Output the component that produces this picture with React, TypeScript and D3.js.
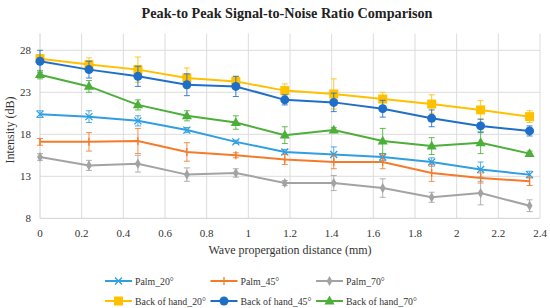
import React, { useEffect, useRef } from 'react';
import * as d3 from 'd3';

const distances = [0, 0.235, 0.47, 0.705, 0.94, 1.175, 1.41, 1.645, 1.88, 2.115, 2.35];

const palm20 = [20.4, 20.1, 19.6, 18.5, 17.1, 15.9, 15.6, 15.3, 14.7, 13.8, 13.2];
const palm20Err = [0.4, 0.7, 0.6, 0.3, 0.2, 0.3, 0.9, 0.4, 0.5, 0.9, 0.4];
const palm45 = [17.1, 17.1, 17.2, 15.9, 15.5, 15.0, 14.7, 14.7, 13.4, 12.8, 12.4];
const palm45Err = [0.4, 1.1, 1.5, 1.1, 0.3, 0.6, 0.8, 0.8, 1.0, 0.6, 0.5];
const palm70 = [15.3, 14.3, 14.5, 13.2, 13.4, 12.2, 12.2, 11.6, 10.5, 11.0, 9.5];
const palm70Err = [0.4, 0.6, 1.0, 0.8, 0.5, 0.3, 0.9, 1.1, 0.6, 1.4, 0.7];
const back20 = [27.0, 26.3, 25.7, 24.7, 24.3, 23.2, 22.8, 22.2, 21.6, 20.9, 20.1];
const back20Err = [0.5, 0.8, 1.5, 1.2, 0.6, 0.8, 1.8, 0.8, 1.1, 1.1, 0.7];
const back45 = [26.7, 25.7, 24.9, 23.9, 23.7, 22.1, 21.8, 21.05, 19.9, 19.0, 18.4];
const back45Err = [1.3, 1.0, 1.2, 1.3, 1.2, 0.6, 1.1, 1.0, 1.0, 0.8, 0.6];
const back70 = [25.1, 23.7, 21.5, 20.2, 19.4, 17.9, 18.5, 17.2, 16.6, 17.0, 15.7];
const back70Err = [0.5, 0.7, 0.6, 0.6, 0.8, 1.0, 0.3, 1.5, 1.0, 1.3, 0.3];

const yTicks = [8, 13, 18, 23, 28];
const xTicks = [0, 0.2, 0.4, 0.6, 0.8, 1, 1.2, 1.4, 1.6, 1.8, 2, 2.2, 2.4];

const seriesList = [
  { name: 'Palm_20°', values: palm20, err: palm20Err, color: '#2f9fe0', marker: 'x' },
  { name: 'Palm_45°', values: palm45, err: palm45Err, color: '#f57b2b', marker: 'plus' },
  { name: 'Palm_70°', values: palm70, err: palm70Err, color: '#a3a3a3', marker: 'diamond' },
  { name: 'Back of hand_20°', values: back20, err: back20Err, color: '#ffc000', marker: 'square' },
  { name: 'Back of hand_45°', values: back45, err: back45Err, color: '#1f6fc9', marker: 'circle' },
  { name: 'Back of hand_70°', values: back70, err: back70Err, color: '#4caf3a', marker: 'triangle' },
];

const FONT = '"Liberation Serif", "DejaVu Serif", serif';

function drawMarker(g, type, x, y, color) {
  if (type === 'x') {
    const s = 3.5;
    g.append('path')
      .attr('d', `M${x - s},${y - s}L${x + s},${y + s}M${x - s},${y + s}L${x + s},${y - s}`)
      .attr('stroke', color).attr('stroke-width', 1.3).attr('fill', 'none');
  } else if (type === 'plus') {
    g.append('path')
      .attr('d', `M${x},${y - 4}L${x},${y + 4}`)
      .attr('stroke', color).attr('stroke-width', 1.3);
  } else if (type === 'diamond') {
    g.append('path').attr('d', d3.symbol(d3.symbolDiamond, 30)())
      .attr('transform', `translate(${x},${y})`).attr('fill', color);
  } else if (type === 'square') {
    g.append('rect').attr('x', x - 4.5).attr('y', y - 4.5).attr('width', 9).attr('height', 9).attr('fill', color);
  } else if (type === 'circle') {
    g.append('circle').attr('cx', x).attr('cy', y).attr('r', 4.5).attr('fill', color);
  } else if (type === 'triangle') {
    g.append('path').attr('d', d3.symbol(d3.symbolTriangle, 45)())
      .attr('transform', `translate(${x},${y + 0.5})`).attr('fill', color);
  }
}

const App = () => {
  const svgRef = useRef(null);

  useEffect(() => {
    const svg = d3.select(svgRef.current);
    svg.selectAll('*').remove();

    const x = d3.scaleLinear().domain([0, 2.4]).range([40, 540]);
    const y = d3.scaleLinear().domain([8, 30]).range([218.3, 33.5]);

    svg.append('rect').attr('width', 550).attr('height', 308).attr('fill', '#fff');

    // title
    svg.append('text')
      .attr('x', 287).attr('y', 18)
      .attr('text-anchor', 'middle')
      .attr('font-family', FONT).attr('font-weight', 'bold').attr('font-size', 14.2)
      .attr('fill', '#222')
      .text('Peak-to Peak Signal-to-Noise Ratio Comparison');

    // grid
    const grid = svg.append('g');
    grid.selectAll('.vg').data(xTicks.slice(1)).enter().append('line')
      .attr('x1', d => x(d)).attr('x2', d => x(d))
      .attr('y1', y(30)).attr('y2', y(8))
      .attr('stroke', '#dcdcdc').attr('stroke-width', 1);
    grid.selectAll('.hg').data(yTicks.slice(1)).enter().append('line')
      .attr('x1', x(0)).attr('x2', x(2.4))
      .attr('y1', d => y(d)).attr('y2', d => y(d))
      .attr('stroke', '#dcdcdc').attr('stroke-width', 1);
    // axes lines
    grid.append('line').attr('x1', x(0)).attr('x2', x(0)).attr('y1', y(30)).attr('y2', y(8))
      .attr('stroke', '#d0d0d0');
    grid.append('line').attr('x1', x(0)).attr('x2', x(2.4)).attr('y1', y(8)).attr('y2', y(8))
      .attr('stroke', '#d0d0d0');

    // tick labels
    svg.selectAll('.xt').data(xTicks).enter().append('text')
      .attr('x', d => x(d)).attr('y', 237)
      .attr('text-anchor', 'middle')
      .attr('font-family', FONT).attr('font-size', 11).attr('fill', '#333')
      .text(d => d3.format('~g')(d));
    svg.selectAll('.yt').data(yTicks).enter().append('text')
      .attr('x', 31).attr('y', d => y(d) + 4)
      .attr('text-anchor', 'end')
      .attr('font-family', FONT).attr('font-size', 11).attr('fill', '#333')
      .text(d => d);

    // axis labels
    svg.append('text')
      .attr('x', 290).attr('y', 254)
      .attr('text-anchor', 'middle')
      .attr('font-family', FONT).attr('font-size', 12).attr('fill', '#333')
      .text('Wave propergation distance (mm)');
    svg.append('text')
      .attr('transform', `translate(14,${y(18.5)}) rotate(-90)`)
      .attr('text-anchor', 'middle')
      .attr('font-family', FONT).attr('font-size', 12).attr('fill', '#333')
      .text('Intensity (dB)');

    const line = d3.line().x(d => x(d[0])).y(d => y(d[1]));

    seriesList.forEach(s => {
      const g = svg.append('g');
      const pts = distances.map((d, i) => [d, s.values[i]]);
      // error bars
      pts.forEach((p, i) => {
        const cx = x(p[0]);
        const top = y(p[1] + s.err[i]);
        const bot = y(p[1] - s.err[i]);
        g.append('path')
          .attr('d', `M${cx},${top}L${cx},${bot}M${cx - 3},${top}L${cx + 3},${top}M${cx - 3},${bot}L${cx + 3},${bot}`)
          .attr('stroke', s.color).attr('stroke-width', 1).attr('fill', 'none').attr('opacity', 0.85);
      });
      g.append('path').datum(pts)
        .attr('d', line)
        .attr('fill', 'none').attr('stroke', s.color).attr('stroke-width', 2);
      pts.forEach(p => drawMarker(g, s.marker, x(p[0]), y(p[1]), s.color));
    });

    // legend
    const legend = svg.append('g');
    seriesList.forEach((s, i) => {
      const col = i % 3;
      const row = Math.floor(i / 3);
      const lx = 105 + col * 105.5;
      const ly = 281 + row * 20;
      legend.append('line').attr('x1', lx).attr('x2', lx + 27).attr('y1', ly).attr('y2', ly)
        .attr('stroke', s.color).attr('stroke-width', 2);
      drawMarker(legend, s.marker, lx + 13.5, ly, s.color);
      legend.append('text')
        .attr('x', lx + 30).attr('y', ly + 4)
        .attr('font-family', FONT).attr('font-size', 9.8).attr('fill', '#333')
        .text(s.name);
    });
  }, []);

  return (
    <svg ref={svgRef} width={550} height={308}
      style={{ position: 'absolute', left: 0, top: 0, display: 'block' }} />
  );
};

export default App;
